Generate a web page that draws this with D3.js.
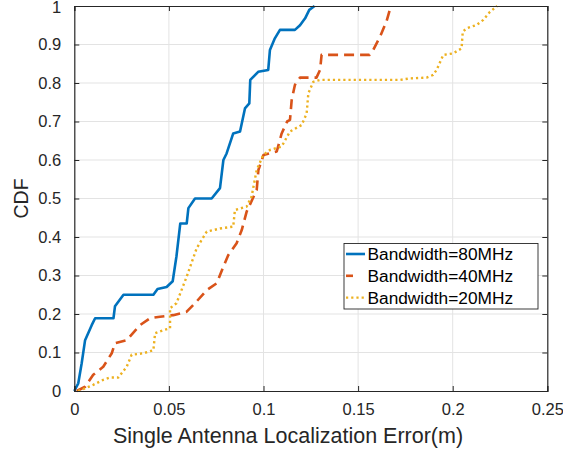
<!DOCTYPE html>
<html>
<head>
<meta charset="utf-8">
<script src="https://cdn.jsdelivr.net/npm/d3@7"></script>
<style>
  body { margin: 0; background: #fff; }
  svg { display: block; font-family: "Liberation Sans", Arial, sans-serif; }
</style>
</head>
<body>
<svg id="chart"></svg>
<script>
// CDF curves (error in metres, cumulative fraction)
const err80 = [0, 0.0021, 0.0039, 0.0057, 0.0092, 0.011, 0.0207, 0.0215, 0.026, 0.0418, 0.044, 0.0488, 0.052, 0.054, 0.056, 0.0594, 0.0603, 0.0638, 0.0726, 0.077, 0.0788, 0.0805, 0.084, 0.0876, 0.0902, 0.0925, 0.093, 0.0972, 0.1025, 0.1034, 0.106, 0.1087, 0.1166, 0.1193, 0.122, 0.1242, 0.127];
const cdf80 = [0, 0.02, 0.072, 0.132, 0.171, 0.189, 0.189, 0.22, 0.25, 0.25, 0.265, 0.27, 0.285, 0.35, 0.435, 0.435, 0.475, 0.5, 0.5, 0.527, 0.6, 0.617, 0.669, 0.674, 0.734, 0.747, 0.808, 0.829, 0.834, 0.886, 0.916, 0.938, 0.938, 0.95, 0.968, 0.99, 1.0];

const err40 = [0.0013, 0.0057, 0.01, 0.0153, 0.0198, 0.0215, 0.0277, 0.0347, 0.04, 0.0453, 0.0523, 0.0594, 0.0638, 0.07, 0.0753, 0.0788, 0.0814, 0.0858, 0.0885, 0.0911, 0.0964, 0.0973, 0.1, 0.107, 0.1096, 0.1125, 0.114, 0.1149, 0.1166, 0.1193, 0.128, 0.1299, 0.1307, 0.156, 0.158, 0.1616, 0.165, 0.167, 0.1674];
const cdf40 = [0, 0.011, 0.042, 0.063, 0.098, 0.124, 0.132, 0.171, 0.189, 0.193, 0.197, 0.206, 0.228, 0.262, 0.28, 0.323, 0.353, 0.384, 0.418, 0.466, 0.522, 0.574, 0.613, 0.622, 0.669, 0.7, 0.704, 0.756, 0.795, 0.814, 0.814, 0.834, 0.873, 0.873, 0.886, 0.92, 0.96, 0.994, 1.0];

const err20 = [0.002, 0.0057, 0.01, 0.0153, 0.0189, 0.0233, 0.0277, 0.0303, 0.0365, 0.0418, 0.0427, 0.047, 0.0506, 0.0506, 0.054, 0.0594, 0.0647, 0.07, 0.077, 0.084, 0.0849, 0.0911, 0.0937, 0.0964, 0.0999, 0.1034, 0.1096, 0.114, 0.1202, 0.1228, 0.1237, 0.1263, 0.1299, 0.1721, 0.1774, 0.1862, 0.1897, 0.1915, 0.195, 0.2003, 0.2047, 0.2053, 0.2074, 0.2127, 0.2162, 0.2197, 0.2235];
const cdf20 = [0, 0.007, 0.016, 0.029, 0.035, 0.035, 0.063, 0.094, 0.098, 0.106, 0.15, 0.158, 0.163, 0.215, 0.228, 0.297, 0.371, 0.414, 0.422, 0.427, 0.47, 0.479, 0.505, 0.574, 0.613, 0.626, 0.635, 0.674, 0.691, 0.721, 0.773, 0.803, 0.808, 0.808, 0.812, 0.814, 0.821, 0.834, 0.873, 0.877, 0.89, 0.933, 0.942, 0.951, 0.964, 0.985, 1.0];

const seriesNames = ['Bandwidth=80MHz', 'Bandwidth=40MHz', 'Bandwidth=20MHz'];
const xTicks = [0, 0.05, 0.1, 0.15, 0.2, 0.25];
const yTicks = [0, 0.1, 0.2, 0.3, 0.4, 0.5, 0.6, 0.7, 0.8, 0.9, 1];
const xLabel = 'Single Antenna Localization Error(m)';
const yLabel = 'CDF';

const width = 563;
const height = 451;
const margin = { top: 6, right: 15.7, bottom: 60, left: 74.3 };
const textColor = '#262626';

const series = [
  { name: seriesNames[0], xs: err80, ys: cdf80, color: '#0072BD', w: 2.6, dash: null, legDash: null },
  { name: seriesNames[1], xs: err40, ys: cdf40, color: '#D95319', w: 2.6, dash: '10,6', legDash: '7,20' },
  { name: seriesNames[2], xs: err20, ys: cdf20, color: '#EDB120', w: 2.4, dash: '2.2,3', legDash: '2.2,3' },
];

const svg = d3.select('#chart')
  .attr('width', width)
  .attr('height', height);

const x = d3.scaleLinear()
  .domain([0, 0.25])
  .range([margin.left, width - margin.right]);
const y = d3.scaleLinear()
  .domain([0, 1])
  .range([height - margin.bottom, margin.top]);

// grid lines
const grid = svg.append('g').attr('stroke', '#e3e3e3').attr('stroke-width', 1);
grid.selectAll('line.gx')
  .data(xTicks.slice(1, -1))
  .join('line')
  .attr('class', 'gx')
  .attr('x1', (d) => x(d)).attr('x2', (d) => x(d))
  .attr('y1', y(0)).attr('y2', y(1));
grid.selectAll('line.gy')
  .data(yTicks.slice(1, -1))
  .join('line')
  .attr('class', 'gy')
  .attr('x1', x(0)).attr('x2', x(0.25))
  .attr('y1', (d) => y(d)).attr('y2', (d) => y(d));

// the curves
const line = d3.line()
  .x((d) => x(d[0]))
  .y((d) => y(d[1]));

series.forEach((s) => {
  const pts = s.xs.map((v, i) => [v, s.ys[i]]);
  svg.append('path')
    .datum(pts)
    .attr('fill', 'none')
    .attr('stroke', s.color)
    .attr('stroke-width', s.w)
    .attr('stroke-dasharray', s.dash)
    .attr('stroke-linejoin', 'round')
    .attr('d', line);
});

// axes, ticks pointing inward on all four sides
const tickLen = 5;
const fmt = (d) => (d === 0 ? '0' : d3.format('')(d));

const xAxis = svg.append('g')
  .attr('transform', `translate(0,${y(0)})`)
  .call(d3.axisBottom(x).tickValues(xTicks).tickSize(-tickLen).tickPadding(12).tickFormat(fmt));
const xTop = svg.append('g')
  .attr('transform', `translate(0,${y(1)})`)
  .call(d3.axisTop(x).tickValues(xTicks).tickSize(-tickLen).tickFormat(''));
const yAxis = svg.append('g')
  .attr('transform', `translate(${x(0)},0)`)
  .call(d3.axisLeft(y).tickValues(yTicks).tickSize(-tickLen).tickPadding(13).tickFormat(fmt));
const yRight = svg.append('g')
  .attr('transform', `translate(${x(0.25)},0)`)
  .call(d3.axisRight(y).tickValues(yTicks).tickSize(-tickLen).tickFormat(''));

[xAxis, xTop, yAxis, yRight].forEach((g) => {
  g.select('.domain').attr('stroke', textColor).attr('stroke-width', 1.2);
  g.selectAll('.tick line').attr('stroke', textColor).attr('stroke-width', 1);
  g.selectAll('.tick text')
    .attr('fill', textColor)
    .style('font-size', '16.5px')
    .style('font-family', '"Liberation Sans", Arial, sans-serif');
});
// keep the top "1" inside the window
yAxis.selectAll('.tick text').filter((d) => d === 1).attr('dy', '0.42em');

// axis labels
svg.append('text')
  .attr('x', 288)
  .attr('y', 443)
  .attr('text-anchor', 'middle')
  .attr('fill', textColor)
  .style('font-size', '21.5px')
  .text(xLabel);

svg.append('text')
  .attr('transform', `translate(28,${(y(0) + y(1)) / 2}) rotate(-90)`)
  .attr('text-anchor', 'middle')
  .attr('fill', textColor)
  .style('font-size', '19.5px')
  .text(yLabel);

// legend
const legend = svg.append('g');
legend.append('rect')
  .attr('x', 344).attr('y', 243.5)
  .attr('width', 194).attr('height', 65.5)
  .attr('fill', '#fff')
  .attr('stroke', textColor)
  .attr('stroke-width', 0.9);

const rows = legend.selectAll('g.row')
  .data(series)
  .join('g')
  .attr('class', 'row')
  .attr('transform', (_d, i) => `translate(0,${254 + i * 21.8})`);

rows.append('line')
  .attr('x1', 346).attr('x2', 365)
  .attr('y1', 0).attr('y2', 0)
  .attr('stroke', (d) => d.color)
  .attr('stroke-width', (d) => d.w)
  .attr('stroke-dasharray', (d) => d.legDash);

rows.append('text')
  .attr('x', 367.5)
  .attr('y', 0)
  .attr('dy', '0.36em')
  .attr('fill', '#000')
  .style('font-size', '17.3px')
  .text((d) => d.name);
</script>
</body>
</html>
